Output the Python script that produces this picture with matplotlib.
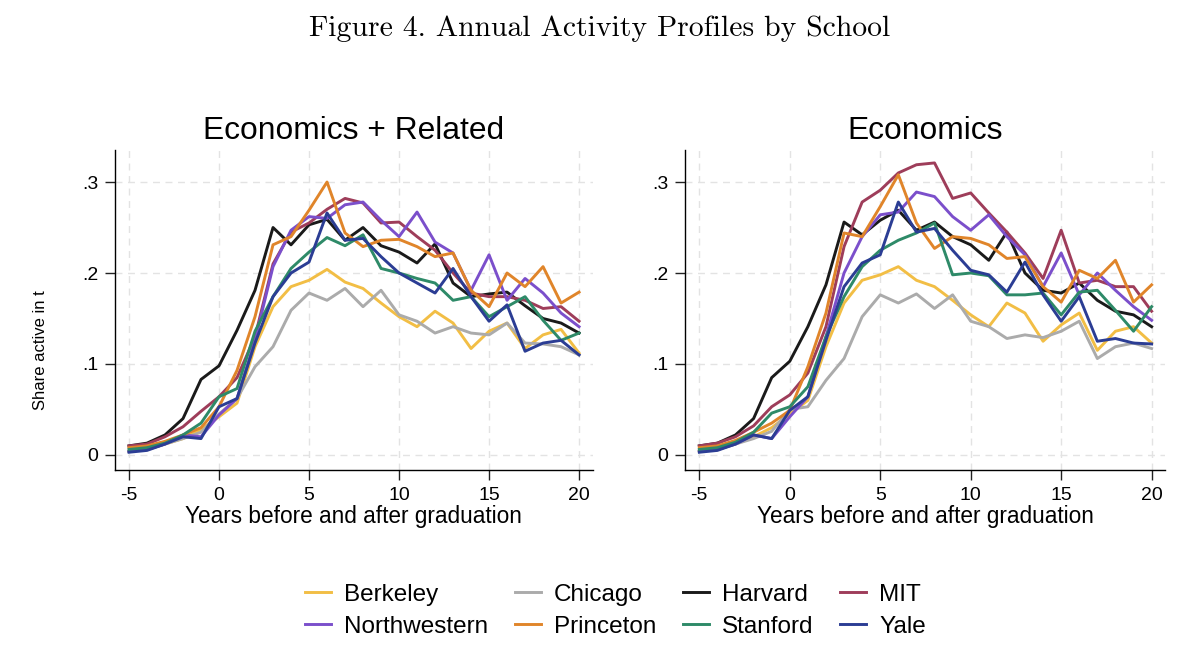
import matplotlib
matplotlib.use('Agg')
import matplotlib.pyplot as plt

plt.rcParams['font.family'] = ['Liberation Sans', 'DejaVu Sans']

years = list(range(-5, 21))

schools = ['Berkeley', 'Chicago', 'Harvard', 'MIT',
           'Northwestern', 'Princeton', 'Stanford', 'Yale']
colors = ['#F2BE45', '#ABABAB', '#1A1A1A', '#9E3D5A',
          '#7B4FCB', '#E0852A', '#2E8A68', '#2B3D94']

# Economics + Related
rel_berkeley = [.004, .006, .012, .018, .028, .042, .057, .119, .163, .185, .192, .204, .190,
                .183, .167, .152, .141, .158, .145, .117, .136, .145, .117, .132, .138, .112]
rel_chicago = [.004, .006, .012, .018, .025, .045, .062, .097, .119, .159, .178, .170, .183,
               .163, .181, .154, .147, .134, .141, .134, .132, .145, .123, .122, .119, .110]
rel_harvard = [.010, .013, .022, .040, .083, .098, .137, .181, .250, .231, .253, .259, .236,
               .250, .230, .223, .211, .232, .189, .174, .177, .179, .164, .150, .145, .134]
rel_mit = [.010, .012, .020, .031, .048, .064, .085, .130, .210, .245, .255, .270, .282,
           .277, .255, .256, .240, .225, .200, .178, .174, .174, .170, .161, .163, .147]
rel_northwestern = [.004, .006, .012, .022, .020, .044, .062, .126, .207, .247, .262, .260, .275,
                    .278, .258, .240, .267, .234, .222, .181, .220, .170, .194, .178, .156, .141]
rel_princeton = [.008, .010, .015, .022, .030, .053, .093, .152, .231, .240, .269, .300, .244,
                 .229, .236, .237, .229, .218, .222, .181, .163, .200, .185, .207, .167, .179]
rel_stanford = [.006, .008, .013, .022, .035, .064, .073, .136, .174, .205, .223, .239, .230,
                .242, .205, .200, .194, .189, .170, .174, .152, .163, .174, .148, .126, .134]
rel_yale = [.003, .005, .012, .020, .018, .053, .062, .123, .174, .200, .212, .266, .236,
            .238, .218, .200, .189, .178, .205, .174, .147, .165, .114, .123, .126, .110]

# Economics
eco_berkeley = [.004, .006, .012, .020, .030, .045, .060, .119, .167, .192, .198, .207, .192,
                .185, .170, .154, .141, .167, .156, .125, .143, .156, .115, .136, .141, .123]
eco_chicago = [.004, .006, .012, .018, .026, .050, .053, .082, .106, .152, .176, .167, .177,
               .161, .176, .147, .141, .128, .132, .129, .136, .147, .106, .119, .123, .117]
eco_harvard = [.010, .013, .022, .040, .085, .103, .141, .187, .256, .242, .258, .269, .247,
               .256, .240, .231, .214, .245, .200, .181, .178, .189, .170, .158, .154, .141]
eco_mit = [.010, .013, .020, .032, .053, .066, .090, .141, .229, .278, .291, .310, .319,
           .321, .282, .288, .266, .245, .222, .194, .247, .189, .192, .185, .185, .158]
eco_northwestern = [.004, .006, .012, .022, .018, .042, .064, .130, .200, .240, .264, .267, .289,
                    .284, .262, .247, .264, .240, .220, .185, .222, .176, .200, .181, .163, .148]
eco_princeton = [.008, .010, .016, .025, .035, .049, .097, .156, .244, .240, .273, .308, .255,
                 .227, .240, .238, .231, .216, .218, .185, .168, .203, .194, .214, .168, .187]
eco_stanford = [.006, .008, .014, .025, .046, .053, .075, .130, .174, .207, .225, .236, .244,
                .255, .198, .200, .197, .176, .176, .178, .154, .179, .181, .159, .136, .163]
eco_yale = [.003, .005, .012, .022, .018, .049, .064, .126, .185, .211, .220, .278, .245,
            .249, .225, .203, .198, .179, .212, .176, .147, .174, .125, .128, .123, .122]

panels = [
    ('Economics + Related', [rel_berkeley, rel_chicago, rel_harvard, rel_mit,
                             rel_northwestern, rel_princeton, rel_stanford, rel_yale]),
    ('Economics', [eco_berkeley, eco_chicago, eco_harvard, eco_mit,
                   eco_northwestern, eco_princeton, eco_stanford, eco_yale]),
]

fig = plt.figure(figsize=(12, 6.69), dpi=100)
fig.text(0.5, 0.957, 'Figure 4. Annual Activity Profiles by School',
         ha='center', va='center', fontsize=21.4, family='cmr10')

positions = [[0.0958, 0.2975, 0.398, 0.478], [0.571, 0.2975, 0.40, 0.478]]

handles = {}
for i, (title, series) in enumerate(panels):
    ax = fig.add_axes(positions[i])
    for name, vals, c in zip(schools, series, colors):
        line, = ax.plot(years, vals, color=c, lw=2.1, label=name)
        handles[name] = line
    ax.set_xlim(-5.78, 20.75)
    ax.set_ylim(-0.0165, 0.335)
    ax.set_xticks([-5, 0, 5, 10, 15, 20])
    ax.set_xticklabels(['-5', '0', '5', '10', '15', '20'])
    ax.set_yticks([0, .1, .2, .3])
    ax.set_yticklabels(['0', '.1', '.2', '.3'])
    ax.grid(True, color='#E3E3E3', ls=(0, (5, 4)), lw=1)
    ax.set_axisbelow(True)
    for s in ['top', 'right']:
        ax.spines[s].set_visible(False)
    ax.spines['left'].set_linewidth(1)
    ax.spines['bottom'].set_linewidth(1)
    ax.tick_params(labelsize=14, length=7, width=1, color='#222222', pad=5)
    ax.set_title(title, fontsize=22.9, pad=8)
    ax.set_xlabel('Years before and after graduation', fontsize=16.3, labelpad=1)
    if i == 0:
        ax.set_ylabel('Share active in t', fontsize=12)
        ax.yaxis.set_label_coords(-0.14, 0.375)

# legend is filled column by column, so order items to read row-wise
order = ['Berkeley', 'Northwestern', 'Chicago', 'Princeton',
         'Harvard', 'Stanford', 'MIT', 'Yale']
fig.legend(handles=[handles[n] for n in order], labels=order, ncol=4, loc='center',
           bbox_to_anchor=(0.513, 0.087), frameon=False, fontsize=17.5,
           handlelength=1.05, columnspacing=1.1, labelspacing=0.42, handletextpad=0.55)

fig.savefig('out.png', dpi=100)
